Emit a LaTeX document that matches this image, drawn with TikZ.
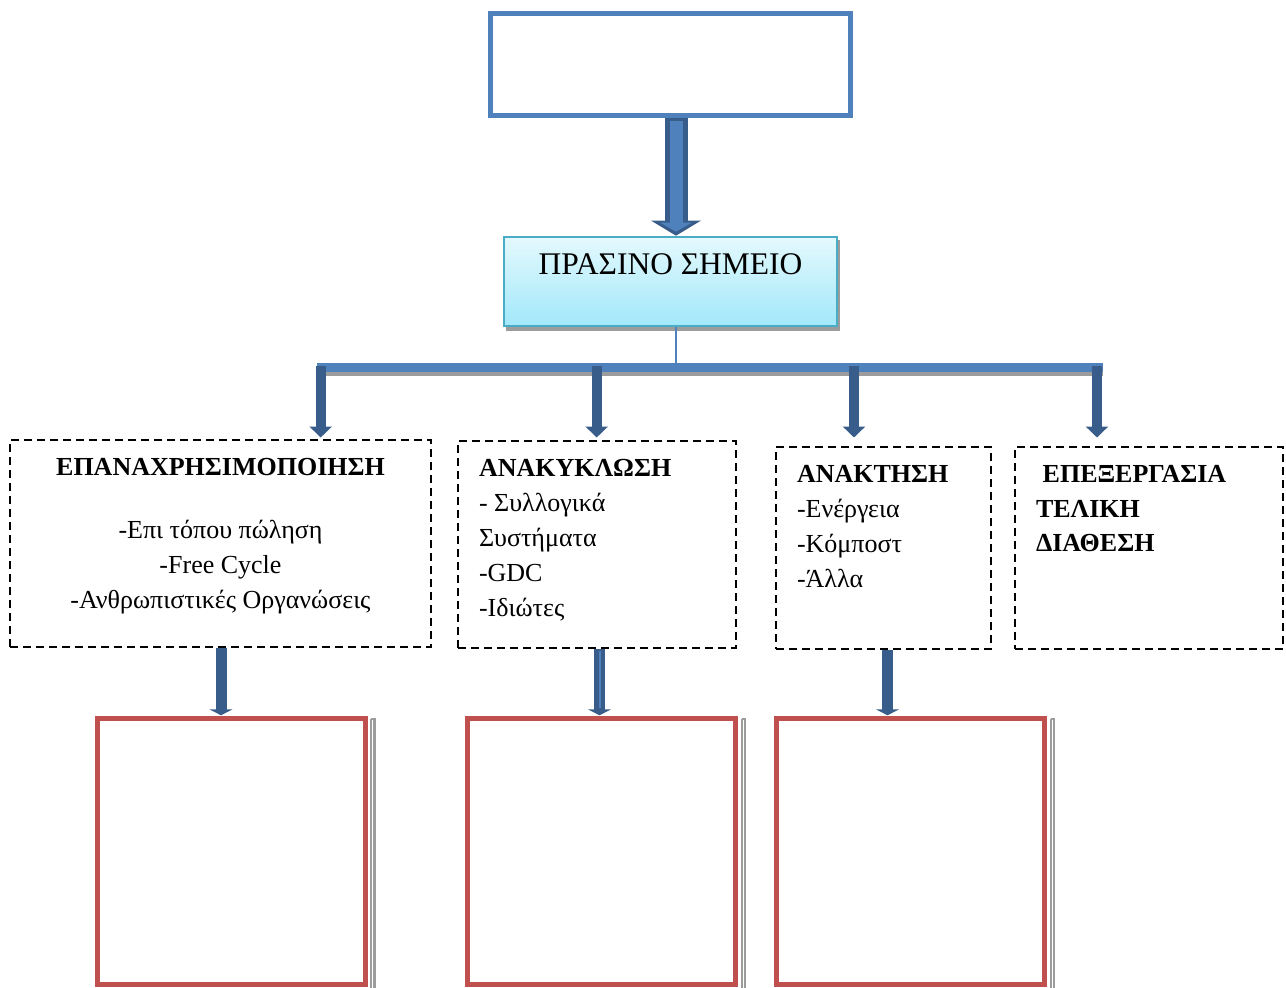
\documentclass[tikz,border=0pt]{standalone}
\usepackage{fontspec}
\setmainfont{Liberation Serif}
\usetikzlibrary{arrows.meta,calc}
\definecolor{blueA}{HTML}{4F81BD}
\definecolor{blueD}{HTML}{385D8A}
\definecolor{redF}{HTML}{C0504D}
\definecolor{aquaB}{HTML}{4BACC6}
\definecolor{aquaT}{HTML}{E4F9FD}
\definecolor{aquaL}{HTML}{A2E8FA}
\definecolor{shadowG}{HTML}{9C9C9C}
\begin{document}
\begin{tikzpicture}[x=1pt,y=-1pt,
  txt/.style={font=\fontsize{26}{35}\selectfont, inner sep=0pt, outer sep=0pt},
  topbox/.style={draw=blueA, line width=5pt, fill=white, inner sep=0pt},
  greenbox/.style={draw=aquaB, line width=2pt, top color=aquaT, bottom color=aquaL, inner sep=0pt},
  dbox/.style={draw=black, line width=2pt, dash pattern=on 8pt off 5pt, inner sep=0pt},
  redbox/.style={draw=redF, line width=5pt, inner sep=0pt},
  bigarrowout/.style={draw=blueD, line width=23pt, -{Triangle[width=49pt,length=15pt]}},
  bigarrowin/.style={draw=blueA, line width=13pt, shorten >=4pt, shorten <=3pt, -{Triangle[width=31pt,length=9pt]}},
  branch/.style={draw=blueD, line width=10pt, -{Triangle[width=22pt,length=11pt]}},
  feed/.style={draw=blueD, line width=11pt, -{Triangle[width=23pt,length=6pt]}},
  rshadow/.style={draw=shadowG, line width=2pt}
]
\useasboundingbox (0,0) rectangle (1286,988);

% top (empty) box and the green point box
\node[topbox, minimum width=360.5pt, minimum height=102pt] (top) at (670.25,64.6) {};
\fill[shadowG] (506,240) rectangle (839.5,330.5);
\node[greenbox, minimum width=332.4pt, minimum height=89pt] (green) at (670.5,281.2) {};
\node[anchor=base, inner sep=0pt, font=\fontsize{31.5}{36}\selectfont] (gtitle) at (670.5,274) {ΠΡΑΣΙΝΟ ΣΗΜΕΙΟ};

% thick arrow from the top box down to the green box
\coordinate (ax) at (676,0);
\draw[bigarrowout] (top.south -| ax) -- (green.north -| ax);
\draw[bigarrowin] (top.south -| ax) -- (green.north -| ax);

% distribution bar
\coordinate (barL) at (317,367.5);
\coordinate (barR) at (1103,367.5);
\draw[shadowG, line width=4.5pt] ($(barL)+(2,6.3)$) -- ($(barR)+(0,6.3)$);
\draw[blueA, line width=8.4pt] (barL) -- (barR);
\draw[blueA, line width=1.5pt] (green.south -| ax) -- ($(barL -| ax)+(0,-4)$);

% dashed category boxes
\node[dbox, minimum width=421pt, minimum height=207pt] (b1) at (220.5,543.5) {};
\node[dbox, minimum width=278pt, minimum height=207pt] (b2) at (597,544.5) {};
\node[dbox, minimum width=215pt, minimum height=202pt] (b3) at (883.5,548) {};
\node[dbox, minimum width=268pt, minimum height=202pt] (b4) at (1149,548) {};

% arrows from the bar to the boxes (all heads end on one level)
\coordinate (k1) at (320.7,366);
\coordinate (k2) at (596.7,366);
\coordinate (k3) at (854,366);
\coordinate (k4) at (1097,366);
\coordinate (tipline) at (0,437.5);
\draw[branch] (k1) -- (k1 |- tipline);
\draw[branch] (k2) -- (k2 |- tipline);
\draw[branch] (k3) -- (k3 |- tipline);
\draw[branch] (k4) -- (k4 |- tipline);

% box texts (anchored on the baseline of their last line)
\node[txt, anchor=base, align=center] (t1) at (220.5,608.5)
  {\bfseries ΕΠΑΝΑΧΡΗΣΙΜΟΠΟΙΗΣΗ\\[28pt]-Επι τόπου πώληση\\-Free Cycle\\-Ανθρωπιστικές Οργανώσεις};
\node[txt, anchor=base west, align=left] (t2) at (479,616.5)
  {\bfseries ΑΝΑΚΥΚΛΩΣΗ\\- Συλλογικά\\Συστήματα\\-GDC\\-Ιδιώτες};
\node[txt, anchor=base west, align=left] (t3) at (797,587)
  {\bfseries ΑΝΑΚΤΗΣΗ\\-Ενέργεια\\-Κόμποστ\\-Άλλα};
\node[txt, anchor=base west, align=left, font=\fontsize{26}{34.5}\selectfont\bfseries] (t4) at (1036,551.5)
  {\hspace*{6.7pt}ΕΠΕΞΕΡΓΑΣΙΑ\\ΤΕΛΙΚΗ\\ΔΙΑΘΕΣΗ};

% red result boxes with their side shadows
\node[redbox, minimum width=268.5pt, minimum height=265.7pt] (r1) at (231.25,851.65) {};
\node[redbox, minimum width=268.3pt, minimum height=265.7pt] (r2) at (601.65,851.65) {};
\node[redbox, minimum width=268.7pt, minimum height=265.7pt] (r3) at (910.35,851.65) {};
\foreach \r in {r1,r2,r3}{
  \draw[rshadow] ($(\r.north east)+(3.4,3)$) -- ($(\r.south east)+(3.4,4)$);
  \draw[rshadow, line width=2.4pt] ($(\r.north east)+(6.6,3)$) -- ($(\r.south east)+(6.6,4)$);
  \draw[rshadow] ($(\r.north east)+(3.4,3)$) -- ($(\r.north east)+(7.8,3)$);
}

% arrows from the boxes to the result boxes
\coordinate (f1) at (221,0);
\coordinate (f2) at (599.5,0);
\coordinate (f3) at (887.5,0);
\draw[feed] (b1.south -| f1) -- ($(r1.north -| f1)+(0,-1)$);
\draw[feed] (b2.south -| f2) -- ($(r2.north -| f2)+(0,-1)$);
\draw[blueA, line width=2pt] ($(b2.south -| f2)+(0,2)$) -- ($(r2.north -| f2)+(0,-8)$);
\draw[feed] (b3.south -| f3) -- ($(r3.north -| f3)+(0,-1)$);
\end{tikzpicture}
\end{document}
